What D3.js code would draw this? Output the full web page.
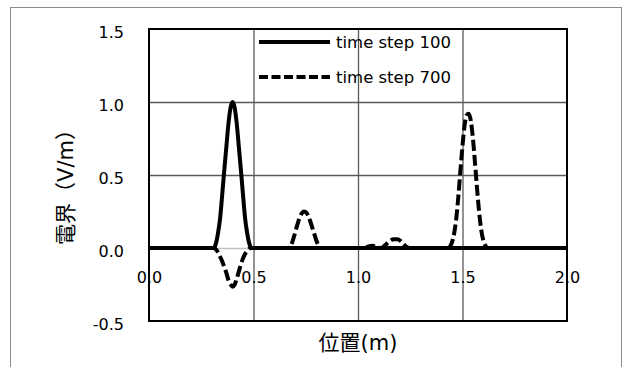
<!DOCTYPE html>
<html>
<head>
<meta charset="utf-8">
<script src="https://cdn.jsdelivr.net/npm/d3@7"></script>
<style>
  html, body { margin: 0; padding: 0; background: #fff; }
  svg text { font-family: "DejaVu Sans", "Noto Sans CJK JP", sans-serif; }
</style>
</head>
<body>
<div id="chart"></div>
<script>
// values
const seriesNames = ["time step 100", "time step 700"];

const step100X = [0.0, 0.31, 0.32, 0.33, 0.34, 0.35, 0.36, 0.37, 0.38, 0.39, 0.40,
  0.41, 0.42, 0.43, 0.44, 0.45, 0.46, 0.47, 0.48, 0.49, 2.0];
const step100E = [0.0, 0.0, 0.03, 0.1, 0.2, 0.36, 0.53, 0.69, 0.85, 0.96, 1.0,
  0.96, 0.85, 0.69, 0.53, 0.36, 0.2, 0.1, 0.03, 0.0, 0.0];

const step700X = [0.0, 0.31, 0.32, 0.33, 0.34, 0.35, 0.36, 0.37, 0.38, 0.39, 0.40,
  0.41, 0.42, 0.43, 0.44, 0.45, 0.46, 0.47, 0.48, 0.49,
  0.66, 0.67, 0.68, 0.69, 0.70, 0.71, 0.72, 0.73, 0.74, 0.75, 0.76, 0.77, 0.78,
  0.79, 0.80, 0.81, 0.82,
  1.03, 1.05, 1.07, 1.09, 1.11, 1.13, 1.15, 1.17, 1.19, 1.21, 1.23, 1.25,
  1.43, 1.44, 1.45, 1.46, 1.47, 1.48, 1.49, 1.50, 1.51, 1.52, 1.53, 1.54, 1.55,
  1.56, 1.57, 1.58, 1.59, 1.60, 1.61, 1.62, 2.0];
const step700E = [0.0, 0.0, -0.01, -0.03, -0.06, -0.09, -0.13, -0.17, -0.22, -0.25, -0.265,
  -0.25, -0.21, -0.16, -0.11, -0.07, -0.04, -0.02, -0.005, 0.0,
  0.0, 0.005, 0.02, 0.06, 0.11, 0.16, 0.205, 0.235, 0.25, 0.245, 0.225, 0.19, 0.145,
  0.1, 0.055, 0.02, 0.0,
  0.0, 0.01, 0.015, 0.005, 0.0, 0.02, 0.045, 0.06, 0.06, 0.04, 0.01, 0.0,
  0.0, 0.01, 0.04, 0.1, 0.2, 0.35, 0.53, 0.7, 0.84, 0.91, 0.92, 0.87, 0.75,
  0.58, 0.4, 0.24, 0.12, 0.05, 0.015, 0.0, 0.0];

const xTicks = [0.0, 0.5, 1.0, 1.5, 2.0];
const yTicks = [-0.5, 0.0, 0.5, 1.0, 1.5];
const xTitle = "位置(m)";
const yTitle = "電界（V/m）";

const W = 630, H = 367;
const plot = { left: 149, right: 567, top: 29, bottom: 321 };
const colors = { grid: "#595959", zero: "#bfbfbf", frame: "#8c8c8c", text: "#000" };
const fmt = (d) => d.toFixed(1); // plain hyphen for negatives, like the source

const svg = d3.select("#chart").append("svg")
  .attr("width", W).attr("height", H);

// outer chart frame (runs past the bottom edge)
svg.append("rect")
  .attr("x", 10.5).attr("y", 7.5)
  .attr("width", 611).attr("height", 380)
  .attr("fill", "#fff").attr("stroke", colors.frame);

const x = d3.scaleLinear().domain([0, 2]).range([plot.left, plot.right]);
const y = d3.scaleLinear().domain([-0.5, 1.5]).range([plot.bottom, plot.top]);

// gridlines
svg.append("g").attr("class", "gridX")
  .attr("transform", `translate(0,${plot.top})`)
  .call(d3.axisTop(x).tickValues(xTicks.slice(1, -1))
    .tickSize(-(plot.bottom - plot.top)).tickFormat(""));
svg.append("g").attr("class", "gridY")
  .attr("transform", `translate(${plot.left},0)`)
  .call(d3.axisLeft(y).tickValues([0.5, 1.0])
    .tickSize(-(plot.right - plot.left)).tickFormat(""));
svg.selectAll(".gridX path, .gridY path").remove();
svg.selectAll(".gridX line, .gridY line")
  .attr("stroke", colors.grid).attr("stroke-width", 1.3);

// horizontal axis sits on y = 0
const xAxis = svg.append("g").attr("class", "xAxis")
  .attr("transform", `translate(0,${y(0)})`)
  .call(d3.axisBottom(x).tickValues(xTicks).tickSize(0).tickPadding(24)
    .tickFormat(fmt));
xAxis.select("path").attr("stroke", colors.zero).attr("stroke-width", 1.5);

const yAxis = svg.append("g").attr("class", "yAxis")
  .attr("transform", `translate(${plot.left},0)`)
  .call(d3.axisLeft(y).tickValues(yTicks).tickSize(0).tickPadding(25)
    .tickFormat(fmt));
yAxis.select("path").remove();
yAxis.selectAll("text").attr("dy", "0.5em");

svg.selectAll(".xAxis text, .yAxis text")
  .style("font-size", "16px").attr("fill", colors.text);

// series
const line = d3.line()
  .x((d) => x(d[0]))
  .y((d) => y(d[1]))
  .curve(d3.curveMonotoneX);

svg.append("path")
  .datum(d3.zip(step700X, step700E))
  .attr("d", line)
  .attr("fill", "none").attr("stroke", "#000")
  .attr("stroke-width", 4).attr("stroke-dasharray", "11,4");

svg.append("path")
  .datum(d3.zip(step100X, step100E))
  .attr("d", line)
  .attr("fill", "none").attr("stroke", "#000")
  .attr("stroke-width", 4).attr("stroke-linejoin", "round");

// plot border
svg.append("rect")
  .attr("x", plot.left).attr("y", plot.top)
  .attr("width", plot.right - plot.left).attr("height", plot.bottom - plot.top)
  .attr("fill", "none").attr("stroke", "#000").attr("stroke-width", 2);

// legend (transparent, grid shows through)
const legend = svg.append("g").attr("class", "legend");
seriesNames.forEach((name, i) => {
  const ly = 42 + i * 35;
  legend.append("line")
    .attr("x1", 259).attr("x2", 330).attr("y1", ly).attr("y2", ly)
    .attr("stroke", "#000").attr("stroke-width", 4)
    .attr("stroke-dasharray", i === 0 ? null : "9,3.5");
  legend.append("text")
    .text(name)
    .attr("x", 336).attr("y", ly + 6)
    .style("font-size", "16.5px").attr("fill", colors.text);
});

// axis titles
svg.append("text")
  .text(xTitle)
  .attr("x", (plot.left + plot.right) / 2).attr("y", 350)
  .attr("text-anchor", "middle")
  .style("font-size", "21px").attr("fill", colors.text);

svg.append("text")
  .text(yTitle)
  .attr("transform", "translate(73,182) rotate(-90)")
  .attr("text-anchor", "middle")
  .style("font-size", "21px").attr("fill", colors.text);
</script>
</body>
</html>
